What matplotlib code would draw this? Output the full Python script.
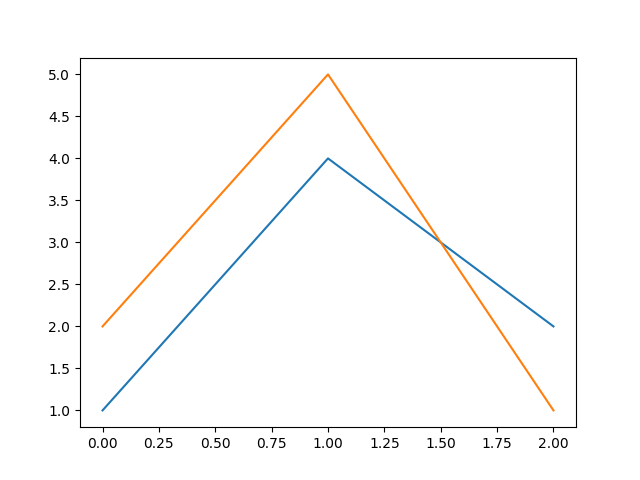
import matplotlib
matplotlib.use("Agg")
import matplotlib.pyplot as plt

x = [0, 1, 2]
series_a = [1, 4, 2]
series_b = [2, 5, 1]

fig, ax = plt.subplots(figsize=(6.4, 4.8), dpi=100)
ax.plot(x, series_a)
ax.plot(x, series_b)

fig.savefig("out.png")
